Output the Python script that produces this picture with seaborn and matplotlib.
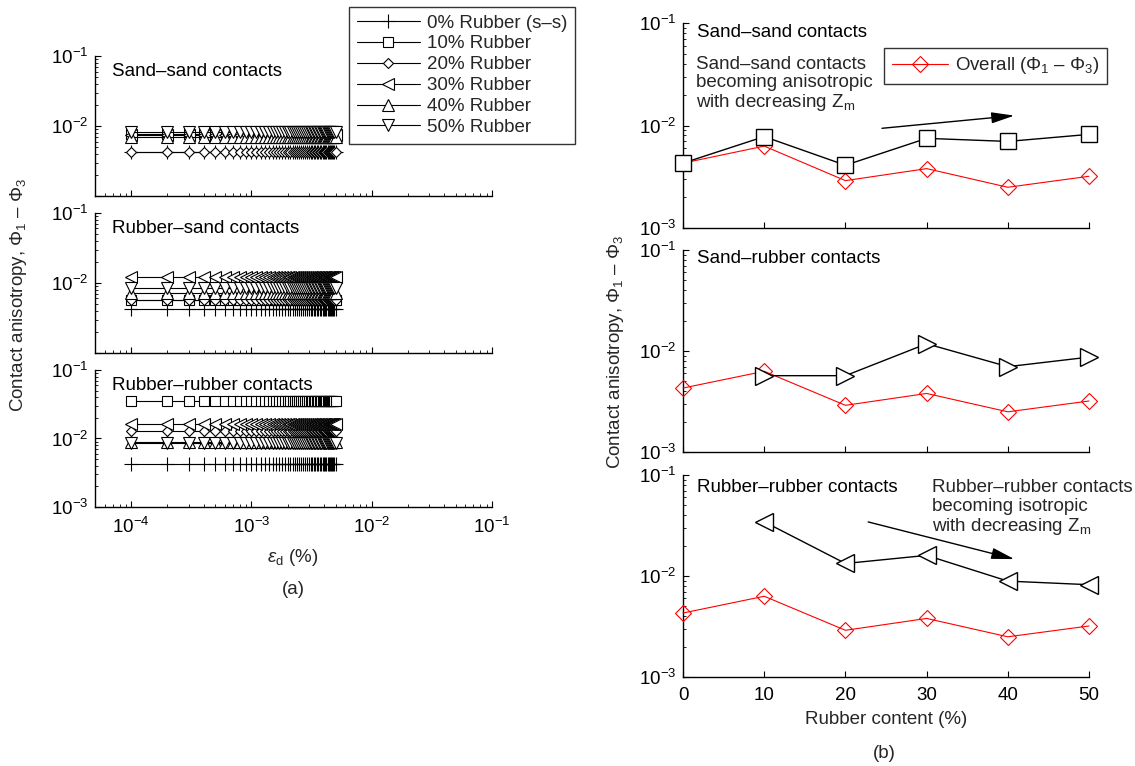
import numpy as np
import matplotlib
matplotlib.use("Agg")
import matplotlib.pyplot as plt
import matplotlib.ticker as mticker
import seaborn as sns

# ---------------- data ----------------
series_labels = ["0% Rubber (s\u2013s)", "10% Rubber", "20% Rubber",
                 "30% Rubber", "40% Rubber", "50% Rubber"]
series_markers = ["+", "s", "D", "<", "^", "v"]

# deviatoric strain steps (%) for panel (a)
strain = np.arange(1, 51) * 1e-4

# contact anisotropy levels per rubber content, panel (a)
sand_sand_levels = [0.0043, 0.0078, 0.0042, 0.0075, 0.0070, 0.0082]
rubber_sand_levels = [0.0043, 0.0058, 0.0058, 0.0121, 0.0072, 0.0086]
rubber_rubber_levels = [0.0043, 0.0350, 0.0128, 0.0163, 0.0088, 0.0086]

# panel (b)
rubber_content = [0, 10, 20, 30, 40, 50]
overall = [0.0043, 0.0063, 0.0029, 0.0038, 0.0025, 0.0032]
sand_sand_b = [0.0043, 0.0078, 0.0041, 0.0075, 0.0070, 0.0082]
rubber_content_r = [10, 20, 30, 40, 50]
sand_rubber_b = [0.0057, 0.0057, 0.0118, 0.0070, 0.0087]
rubber_rubber_b = [0.0344, 0.0133, 0.0160, 0.0089, 0.0082]

panel_a_titles = ["Sand\u2013sand contacts", "Rubber\u2013sand contacts",
                  "Rubber\u2013rubber contacts"]
panel_b_titles = ["Sand\u2013sand contacts", "Sand\u2013rubber contacts",
                  "Rubber\u2013rubber contacts"]

# ---------------- style ----------------
sns.set_theme(style="white")
plt.rcParams["font.family"] = ["Liberation Sans", "DejaVu Sans"]
plt.rcParams["mathtext.fontset"] = "custom"
plt.rcParams["mathtext.rm"] = "Liberation Sans"
plt.rcParams["mathtext.it"] = "Liberation Sans:italic"
plt.rcParams["mathtext.bf"] = "Liberation Sans:bold"
FS = 13.5

fig = plt.figure(figsize=(11.35, 7.66), dpi=100)

left_rects = [[0.0837, 0.7441, 0.3498, 0.1828],
              [0.0837, 0.5392, 0.3498, 0.1828],
              [0.0837, 0.3381, 0.3498, 0.1789]]
right_rects = [[0.6018, 0.7023, 0.3577, 0.2676],
               [0.6018, 0.4099, 0.3577, 0.2637],
               [0.6018, 0.1162, 0.3577, 0.2637]]

ytick_vals = [1e-3, 1e-2, 1e-1]
ytick_txt = [r"$\mathdefault{10^{-3}}$", r"$\mathdefault{10^{-2}}$", r"$\mathdefault{10^{-1}}$"]


def style_axes(ax):
    for s in ["top", "right"]:
        ax.spines[s].set_visible(False)
    for s in ["left", "bottom"]:
        ax.spines[s].set_color("black")
        ax.spines[s].set_linewidth(1.0)
    ax.tick_params(which="both", bottom=True, left=True, top=False, right=False)
    ax.tick_params(which="major", direction="in", length=4.5, width=0.8,
                   colors="black", labelsize=FS)
    ax.tick_params(axis="x", which="major", pad=7)
    ax.tick_params(axis="y", which="major", pad=5)
    ax.tick_params(which="minor", direction="in", length=2.2, width=0.6,
                   colors="black")
    ax.grid(False)
    ax.set_facecolor("white")


# ---------------- panel (a) ----------------
left_axes = []
levels_all = [sand_sand_levels, rubber_sand_levels, rubber_rubber_levels]
msize = {"+": 10, "s": 7.5, "D": 5.5, "<": 8, "^": 8, "v": 8}
for i, rect in enumerate(left_rects):
    ax = fig.add_axes(rect)
    ax.set_xscale("log")
    ax.set_yscale("log")
    for j in range(6):
        yv = np.full(strain.shape, levels_all[i][j])
        sns.lineplot(x=strain, y=yv, ax=ax, marker=series_markers[j],
                     color="black", linewidth=0.8,
                     markersize=msize[series_markers[j]],
                     markerfacecolor="white", markeredgecolor="black",
                     markeredgewidth=0.8, label=series_labels[j],
                     errorbar=None, legend=False)
    ax.set_xlim(5e-5, 1e-1)
    ax.set_ylim(1e-3, 1e-1)
    style_axes(ax)
    ax.set_yticks(ytick_vals)
    if i == 2:
        ax.set_yticklabels(ytick_txt)
    else:
        ax.set_yticklabels([""] + ytick_txt[1:])
    ax.yaxis.set_minor_locator(mticker.LogLocator(base=10, subs=np.arange(2, 10)))
    ax.yaxis.set_minor_formatter(mticker.NullFormatter())
    ax.set_xticks([1e-4, 1e-3, 1e-2, 1e-1])
    ax.xaxis.set_minor_locator(mticker.LogLocator(base=10, subs=np.arange(2, 10)))
    ax.xaxis.set_minor_formatter(mticker.NullFormatter())
    if i == 2:
        ax.set_xticklabels([r"$\mathdefault{10^{-4}}$", r"$\mathdefault{10^{-3}}$",
                            r"$\mathdefault{10^{-2}}$", r"$\mathdefault{10^{-1}}$"])
    else:
        ax.set_xticklabels([])
    ax.set_xlabel("")
    ax.set_ylabel("")
    ax.text(0.043, 0.89, panel_a_titles[i], transform=ax.transAxes,
            ha="left", va="center", fontsize=FS, color="black")
    left_axes.append(ax)

handles, labels = left_axes[0].get_legend_handles_labels()
leg = fig.legend(handles, labels, loc="upper left",
                 bbox_to_anchor=(349 / 1135, 1 - 7 / 766), fontsize=FS,
                 frameon=True, fancybox=False, edgecolor="black",
                 handlelength=3.4, handletextpad=0.35, labelspacing=0.2,
                 borderpad=0.4, borderaxespad=0)
leg.get_frame().set_linewidth(1.0)

# ---------------- panel (b) ----------------
right_axes = []
black_x = [rubber_content, rubber_content_r, rubber_content_r]
black_y = [sand_sand_b, sand_rubber_b, rubber_rubber_b]
black_m = ["s", ">", "<"]
black_ms = [11, 12.5, 12.5]
for i, rect in enumerate(right_rects):
    ax = fig.add_axes(rect)
    ax.set_yscale("log")
    sns.lineplot(x=rubber_content, y=overall, ax=ax, marker="D", color="red",
                 linewidth=0.8, markersize=8, markerfacecolor="none",
                 markeredgecolor="red", markeredgewidth=0.8, clip_on=False,
                 label="Overall (\u03a6$_1$ \u2013 \u03a6$_3$)", errorbar=None,
                 legend=False, zorder=3)
    sns.lineplot(x=black_x[i], y=black_y[i], ax=ax, marker=black_m[i],
                 color="black", linewidth=1.0, markersize=black_ms[i],
                 markerfacecolor="white", markeredgecolor="black",
                 markeredgewidth=1.0, clip_on=False, errorbar=None,
                 legend=False, zorder=4)
    ax.set_xlim(0, 50)
    ax.set_ylim(1e-3, 1e-1)
    style_axes(ax)
    ax.set_yticks(ytick_vals)
    ax.set_yticklabels(ytick_txt)
    ax.yaxis.set_minor_locator(mticker.LogLocator(base=10, subs=np.arange(2, 10)))
    ax.yaxis.set_minor_formatter(mticker.NullFormatter())
    ax.set_xticks(rubber_content)
    if i == 2:
        ax.set_xticklabels([str(v) for v in rubber_content])
    else:
        ax.set_xticklabels([])
    ax.set_xlabel("")
    ax.set_ylabel("")
    ax.text(0.034, 0.955 if i == 0 else (0.96 if i == 1 else 0.94),
            panel_b_titles[i], transform=ax.transAxes,
            ha="left", va="center", fontsize=FS, color="black")
    right_axes.append(ax)

# annotations of panel (b)
arrow_style = dict(arrowstyle="-|>,head_length=0.7,head_width=0.17",
                   color="black", lw=1.0, mutation_scale=20,
                   shrinkA=0, shrinkB=0)
right_axes[0].text(0.032, 0.70,
                   "Sand\u2013sand contacts\nbecoming anisotropic\nwith decreasing Z$_\\mathrm{m}$",
                   transform=right_axes[0].transAxes, ha="left", va="center",
                   fontsize=FS, linespacing=1.1)
right_axes[0].annotate("", xy=(40.8, 0.0125), xytext=(24.5, 0.0094),
                       arrowprops=arrow_style)
right_axes[2].text(0.612, 0.835,
                   "Rubber\u2013rubber contacts\nbecoming isotropic\nwith decreasing Z$_\\mathrm{m}$",
                   transform=right_axes[2].transAxes, ha="left", va="center",
                   fontsize=FS, linespacing=1.1)
right_axes[2].annotate("", xy=(40.8, 0.0147), xytext=(22.8, 0.0343),
                       arrowprops=arrow_style)

h2, l2 = right_axes[0].get_legend_handles_labels()
leg2 = fig.legend(h2[:1], l2[:1], loc="upper left",
                  bbox_to_anchor=(884 / 1135, 1 - 48 / 766), fontsize=FS,
                  frameon=True, fancybox=False, edgecolor="black",
                  handlelength=3.0, handletextpad=0.4, borderpad=0.4,
                  borderaxespad=0)
leg2.get_frame().set_linewidth(1.0)

# axis labels and panel captions
ylab = "Contact anisotropy, \u03a6$_1$ \u2013 \u03a6$_3$"
fig.text(19 / 1135, 1 - 295 / 766, ylab, rotation=90, ha="center", va="center", fontsize=FS)
fig.text(615 / 1135, 1 - 352 / 766, ylab, rotation=90, ha="center", va="center", fontsize=FS)
fig.text(293 / 1135, 1 - 558 / 766, r"$\varepsilon_\mathrm{d}$ (%)", ha="center", va="center", fontsize=FS)
fig.text(293 / 1135, 1 - 590 / 766, "(a)", ha="center", va="center", fontsize=FS)
fig.text(886 / 1135, 1 - 720 / 766, "Rubber content (%)", ha="center", va="center", fontsize=FS)
fig.text(884 / 1135, 1 - 753 / 766, "(b)", ha="center", va="center", fontsize=FS)

fig.savefig("out.png", dpi=100, facecolor="white")
